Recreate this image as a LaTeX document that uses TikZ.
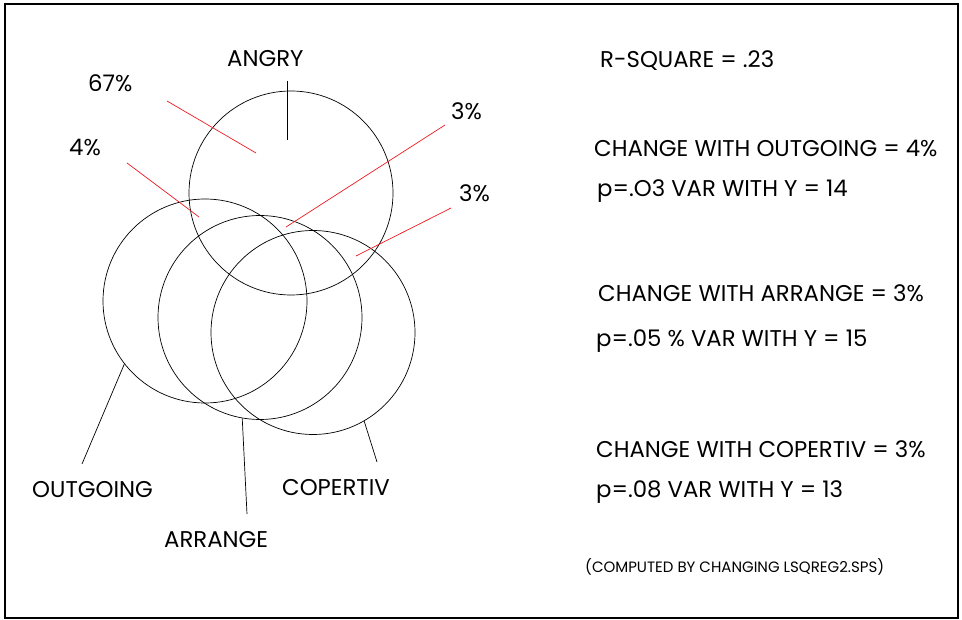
\documentclass[tikz,border=0pt]{standalone}
\usepackage{fontspec}
\setmainfont{Poppins}
\usepackage{tikz}
\usetikzlibrary{positioning}
\definecolor{pointred}{RGB}{237, 28, 36}

\begin{document}
\begin{tikzpicture}[x=1pt, y=-1pt]
    \tikzstyle{set} = [circle, draw=black, line width=0.7pt, minimum size=204pt, inner sep=0pt]
    \tikzstyle{lbl} = [inner sep=0pt, anchor=base west, font=\fontsize{22.8}{24}\selectfont]
    \tikzstyle{note} = [inner sep=0pt, anchor=base west, font=\fontsize{15}{17}\selectfont]
    \tikzstyle{pointer} = [draw=pointred, line width=0.7pt]
    \tikzstyle{leader} = [draw=black, line width=0.7pt]

    \fill[white] (0,0) rectangle (962,620);
    \useasboundingbox (0,0) rectangle (962,620);
    \draw[line width=1.6pt] (5,4) rectangle (958,618);

    % the four sets
    \node (angry) [set] at (291,193) {};
    \node (outgoing) [set] at (205,301) {};
    \node (arrange) [set] at (260,317.5) {};
    \node (copertiv) [set] at (313,332.5) {};

    % set names
    \node (angrylbl) [lbl] at (227,67) {ANGRY};
    \node (outgoinglbl) [lbl] at (32,497) {OUTGOING};
    \node (arrangelbl) [lbl] at (164,547) {ARRANGE};
    \node (copertivlbl) [lbl] at (282,496) {COPERTIV};

    \coordinate (angrytop) at (287,81);
    \coordinate (angrytip) at (287,140);
    \coordinate (outgoingend) at (82,464);
    \coordinate (arrangeend) at (247,514);
    \coordinate (copertivend) at (377,462);

    \draw [leader] (angrytop) -- (angrytip);
    \draw [leader] (outgoing.218) -- (outgoingend);
    \draw [leader] (arrange.260) -- (arrangeend);
    \draw [leader] (copertiv.300) -- (copertivend);

    % shares of variance
    \node (pangry) [lbl] at (88,92) {67\%};
    \node (pout) [lbl] at (69,156) {4\%};
    \node (parr) [lbl] at (451,120) {3\%};
    \node (pcop) [lbl] at (459,202) {3\%};

    \coordinate (pangrya) at (167,101);
    \coordinate (pangryb) at (256,153);
    \coordinate (pouta) at (127,163);
    \coordinate (poutb) at (199,217);
    \coordinate (parra) at (445,125);
    \coordinate (parrb) at (286,227);
    \coordinate (pcopa) at (451,208);
    \coordinate (pcopb) at (356,256);

    \draw [pointer] (pangrya) -- (pangryb);
    \draw [pointer] (pouta) -- (poutb);
    \draw [pointer] (parra) -- (parrb);
    \draw [pointer] (pcopa) -- (pcopb);

    % results
    \node (rsq) [lbl] at (600,68) {R-SQUARE = .23};
    \node (chout) [lbl] at (594,157) {CHANGE WITH OUTGOING = 4\%};
    \node (vout) [lbl] at (597,197) {p=.O3 VAR WITH Y = 14};
    \node (charr) [lbl] at (598,302) {CHANGE WITH ARRANGE = 3\%};
    \node (varr) [lbl] at (596,347) {p=.05 \% VAR WITH Y = 15};
    \node (chcop) [lbl] at (596,457) {CHANGE WITH COPERTIV = 3\%};
    \node (vcop) [lbl] at (596,497) {p=.08 VAR WITH Y = 13};
    \node (computed) [note] at (585,572) {(COMPUTED BY CHANGING LSQREG2.SPS)};
\end{tikzpicture}
\end{document}
